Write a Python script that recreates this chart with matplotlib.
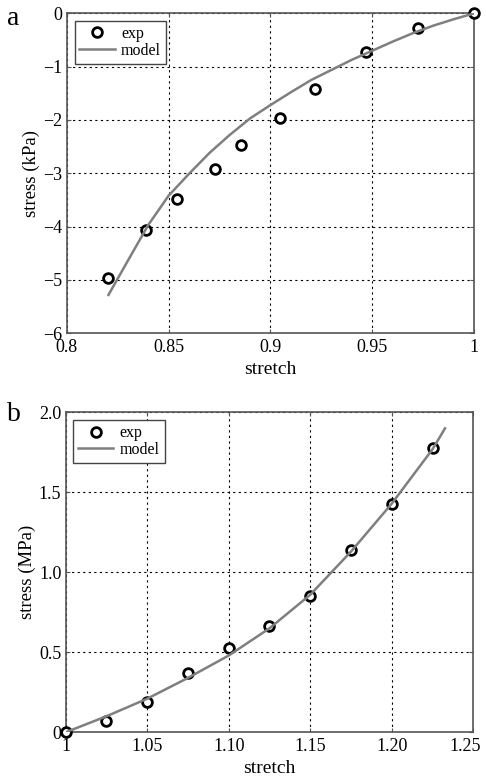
import matplotlib
matplotlib.use("Agg")
import matplotlib.pyplot as plt
from matplotlib.transforms import ScaledTranslation

plt.rcParams['font.family'] = ['Liberation Serif', 'DejaVu Serif']
plt.rcParams['axes.unicode_minus'] = True

# panel a: compression
exp_a_x = [0.8205, 0.839, 0.854, 0.873, 0.8857, 0.9045, 0.9216, 0.9467, 0.9722, 1.0]
exp_a_y = [-4.97, -4.06, -3.48, -2.92, -2.46, -1.97, -1.42, -0.72, -0.28, 0.0]
model_a_x = [0.8205, 0.83, 0.84, 0.85, 0.86, 0.87, 0.88, 0.89, 0.90, 0.91,
             0.92, 0.93, 0.94, 0.95, 0.96, 0.97, 0.98, 0.99, 1.0]
model_a_y = [-5.28, -4.64, -3.97, -3.42, -3.01, -2.62, -2.28, -1.97, -1.72, -1.48,
             -1.25, -1.06, -0.87, -0.70, -0.53, -0.37, -0.23, -0.11, 0.0]

# panel b: tension
exp_b_x = [1.0, 1.025, 1.05, 1.075, 1.10, 1.125, 1.15, 1.175, 1.20, 1.225]
exp_b_y = [0.0, 0.07, 0.19, 0.37, 0.53, 0.665, 0.85, 1.137, 1.425, 1.775]
model_b_x = [1.0, 1.025, 1.05, 1.075, 1.10, 1.125, 1.15, 1.175, 1.20, 1.225, 1.2326]
model_b_y = [0.0, 0.10, 0.21, 0.34, 0.48, 0.65, 0.86, 1.13, 1.43, 1.77, 1.90]

a_xticks = [0.8, 0.85, 0.9, 0.95, 1.0]
a_xlabels = ['0.8', '0.85', '0.9', '0.95', '1']
a_yticks = [-6, -5, -4, -3, -2, -1, 0]
a_ylabels = ['\u22126', '\u22125', '\u22124', '\u22123', '\u22122', '\u22121', '0']
b_xticks = [1.0, 1.05, 1.10, 1.15, 1.20, 1.25]
b_xlabels = ['1', '1.05', '1.10', '1.15', '1.20', '1.25']
b_yticks = [0, 0.5, 1.0, 1.5, 2.0]
b_ylabels = ['0', '0.5', '1.0', '1.5', '2.0']

line_col = '#7f7f7f'
spine_col = '#555555'

fig = plt.figure(figsize=(4.86, 7.83), dpi=100)
ax1 = fig.add_axes([0.1372, 0.5743, 0.8387, 0.4087])
ax2 = fig.add_axes([0.1348, 0.0647, 0.8393, 0.4087])


def style(ax, xt, xl, yt, yl, xlim, ylim, ylab):
    ax.set_xlim(*xlim)
    ax.set_ylim(*ylim)
    ax.set_xticks(xt)
    ax.set_xticklabels(xl)
    ax.set_yticks(yt)
    ax.set_yticklabels(yl)
    ax.grid(True, linestyle=(0, (2, 3)), color='black', linewidth=0.8)
    ax.tick_params(direction='in', top=True, right=True, length=3,
                   labelsize=13, color=spine_col)
    ax.tick_params(axis='x', pad=4)
    ax.tick_params(axis='y', pad=3)
    for s in ax.spines.values():
        s.set_color(spine_col)
        s.set_linewidth(1.2)
    ax.set_xlabel('stretch', fontsize=14, labelpad=4)
    ax.set_ylabel(ylab, fontsize=13.5, labelpad=2)


for ax, ex, ey, mx, my in [(ax1, exp_a_x, exp_a_y, model_a_x, model_a_y),
                           (ax2, exp_b_x, exp_b_y, model_b_x, model_b_y)]:
    ax.plot(ex, ey, 'o', mfc='white', mec='black', mew=2.0, ms=7,
            label='exp', zorder=3, clip_on=False)
    ax.plot(mx, my, '-', color=line_col, lw=1.8, label='model', zorder=4)
    leg = ax.legend(loc='upper left', fontsize=11.5, fancybox=False,
                    framealpha=1, edgecolor='#444444', borderpad=0.3,
                    handlelength=2.2, handletextpad=0.4, labelspacing=0.05,
                    borderaxespad=0.5)
    leg.get_frame().set_linewidth(1.0)

style(ax1, a_xticks, a_xlabels, a_yticks, a_ylabels, (0.8, 1.0), (-6, 0),
      'stress (kPa)')
style(ax2, b_xticks, b_xlabels, b_yticks, b_ylabels, (1.0, 1.25), (0, 2.0),
      'stress (MPa)')

# last tick label of panel b sits a bit to the left so it stays on the page
last = ax2.get_xticklabels()[-1]
last.set_transform(last.get_transform() +
                   ScaledTranslation(-6 / 72, 0, fig.dpi_scale_trans))

fig.text(0.014, 0.977, 'a', fontsize=20, va='center')
fig.text(0.014, 0.470, 'b', fontsize=20, va='center')

fig.savefig('out.png', dpi=100)
